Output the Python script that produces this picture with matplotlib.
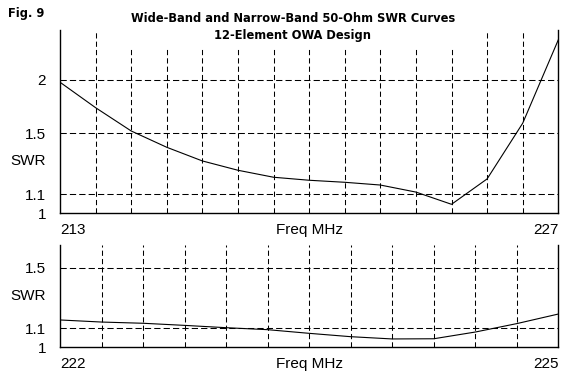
import numpy as np
import matplotlib
matplotlib.use('Agg')
import matplotlib.pyplot as plt
from matplotlib import font_manager
from matplotlib.patches import Rectangle

# wide band sweep, 1 MHz steps
wide_freq = [213, 214, 215, 216, 217, 218, 219, 220, 221, 222, 223, 224, 225, 226, 227]
wide_swr = [1.974, 1.717, 1.518, 1.395, 1.301, 1.241, 1.198, 1.18, 1.168, 1.152, 1.112, 1.046, 1.188, 1.581, 2.53]

# narrow band sweep, 0.25 MHz steps
narrow_freq = [222.0, 222.25, 222.5, 222.75, 223.0, 223.25, 223.5, 223.75, 224.0, 224.25, 224.5, 224.75, 225.0]
narrow_swr = [1.148, 1.136, 1.129, 1.117, 1.104, 1.093, 1.073, 1.055, 1.043, 1.044, 1.080, 1.127, 1.183]

swr_ticks = [1, 1.1, 1.5, 2]
swr_tick_labels = ['1', '1.1', '1.5', '2']

plt.rcParams['font.family'] = ['Liberation Sans', 'DejaVu Sans']
plt.rcParams['font.size'] = 11

# look for a condensed bold face for the headings
title_font = None
for f in font_manager.fontManager.ttflist:
    narrow = 'Narrow' in f.name or 'Condensed' in f.fname or f.stretch == 'condensed'
    if narrow and f.weight in ('bold', 700) and 'Oblique' not in f.fname and 'Italic' not in f.fname:
        title_font = font_manager.FontProperties(fname=f.fname, size=9.2)
        break
if title_font is None:
    title_font = font_manager.FontProperties(family='Liberation Sans', weight='bold', size=10)


# SWR axis is linear in reflection coefficient
def fwd(s):
    s = np.asarray(s, dtype=float)
    return (s - 1) / (s + 1)


def inv(r):
    r = np.asarray(r, dtype=float)
    return (1 + r) / (1 - r)


def style_axes(ax, freq, swr, xticks, ymax, grid_y):
    ax.plot(freq, swr, color='black', lw=0.8)
    ax.set_yscale('function', functions=(fwd, inv))
    ax.set_xlim(freq[0], freq[-1])
    ax.set_ylim(1, ymax)
    ax.spines['top'].set_visible(False)
    for s in ['left', 'right', 'bottom']:
        ax.spines[s].set_linewidth(1.0)
    for x in xticks[1:-1]:
        ax.axvline(x, color='black', lw=0.75, ls=(0, (5, 3)))
    for y in grid_y:
        ax.axhline(y, color='black', lw=0.75, ls=(0, (6, 3)))
    ticks = [t for t in swr_ticks if t <= ymax]
    ax.set_yticks(ticks)
    ax.set_yticklabels(swr_tick_labels[:len(ticks)])
    ax.yaxis.set_minor_locator(matplotlib.ticker.NullLocator())
    ax.set_xticks([freq[0], freq[-1]])
    ax.set_xticklabels([f'{freq[0]:g}', f'{freq[-1]:g}'])
    labs = ax.get_xticklabels()
    labs[0].set_ha('left')
    labs[1].set_ha('right')
    ax.tick_params(axis='both', length=0)
    ax.tick_params(axis='y', pad=10)
    ax.tick_params(axis='x', pad=7)
    ax.annotate('Freq MHz', xy=(0.5, 0), xycoords='axes fraction',
                xytext=(0, -7), textcoords='offset points', ha='center', va='top')
    ax.annotate('SWR', xy=(0, 1.3), xycoords=('axes fraction', 'data'),
                xytext=(-10, 0), textcoords='offset points', ha='right', va='center')


fig = plt.figure(figsize=(5.83, 3.85), dpi=100)
ax1 = fig.add_axes([60 / 583, 1 - 213.3 / 385, 498.3 / 583, 183.3 / 385])
ax2 = fig.add_axes([60 / 583, 1 - 347.3 / 385, 498.3 / 583, 102.3 / 385])

style_axes(ax1, wide_freq, wide_swr, list(range(213, 228)), 2.69, [1.1, 1.5, 2])
style_axes(ax2, narrow_freq, narrow_swr, list(np.arange(222, 225.01, 0.25)), 1.695, [1.1, 1.5])

# white block behind the heading hides the grid tops
fig.add_artist(Rectangle((116 / 583, 1 - 48 / 385), 354 / 583, 48 / 385,
                         transform=fig.transFigure, facecolor='white',
                         edgecolor='none', zorder=1))

fig.text(8 / 583, 1 - 13 / 385, 'Fig. 9', fontproperties=title_font,
         ha='left', va='center', zorder=2)
fig.text(293 / 583, 1 - 18 / 385, 'Wide-Band and Narrow-Band 50-Ohm SWR Curves',
         fontproperties=title_font, ha='center', va='center', zorder=2)
fig.text(292 / 583, 1 - 36 / 385, '12-Element OWA Design',
         fontproperties=title_font, ha='center', va='center', zorder=2)

fig.savefig('out.png', dpi=100)
